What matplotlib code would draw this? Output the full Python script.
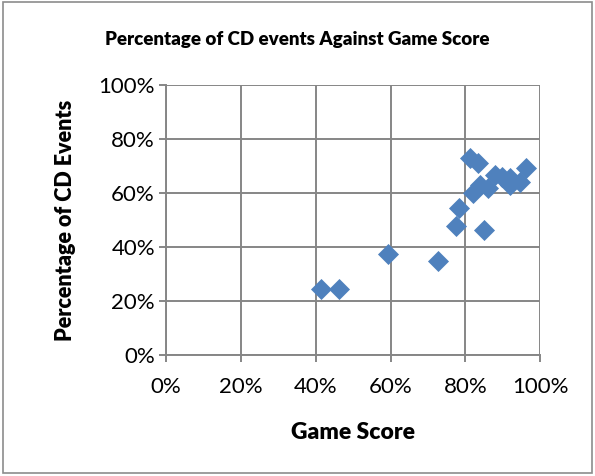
import matplotlib.pyplot as plt
import matplotlib.ticker as mtick
from matplotlib.patches import Rectangle

plt.rcParams['font.family'] = ['Lato', 'DejaVu Sans']

# Game score vs share of CD events (fractions)
game_score = [0.811, 0.833, 0.961, 0.878, 0.897, 0.918, 0.945, 0.918,
              0.838, 0.860, 0.820, 0.784, 0.774, 0.851, 0.594, 0.726,
              0.415, 0.463]
cd_pct = [0.73, 0.711, 0.693, 0.667, 0.66, 0.655, 0.64, 0.63,
          0.63, 0.62, 0.60, 0.544, 0.48, 0.463, 0.374, 0.348,
          0.244, 0.244]

GRID = "#868686"
BLUE = "#4F81BD"

fig = plt.figure(figsize=(5.95, 4.76), dpi=100)
ax = fig.add_axes([0.279, 0.254, 0.629, 0.567])

ax.scatter(game_score, cd_pct, marker="D", s=115, color=BLUE,
           linewidths=0, zorder=3, clip_on=False)

ax.set_xlim(0, 1)
ax.set_ylim(0, 1)
ax.xaxis.set_major_locator(mtick.MultipleLocator(0.2))
ax.yaxis.set_major_locator(mtick.MultipleLocator(0.2))
ax.xaxis.set_major_formatter(mtick.PercentFormatter(1.0, decimals=0))
ax.yaxis.set_major_formatter(mtick.PercentFormatter(1.0, decimals=0))
ax.grid(True, color=GRID, linewidth=1.4)
ax.set_axisbelow(True)
for sp in ax.spines.values():
    sp.set_visible(False)
for side in ("left", "bottom"):
    ax.spines[side].set_visible(True)
    ax.spines[side].set_color(GRID)
    ax.spines[side].set_linewidth(1.4)
ax.tick_params(direction="out", length=5, width=1.4, color=GRID,
               labelsize=16, pad=3)
ax.tick_params(axis="x", pad=11)

ax.set_xlabel("Game Score", fontsize=16.5, fontweight="heavy", labelpad=18)
ax.set_ylabel("Percentage of CD Events", fontsize=15.5, fontweight="heavy", labelpad=16)
fig.text(0.5, 0.916, "Percentage of CD events Against Game Score",
         ha="center", va="center", fontsize=13.5, fontweight="heavy")

# chart frame
fig.patches.append(Rectangle((0.005, 0.006), 0.99, 0.99, transform=fig.transFigure,
                             fill=False, edgecolor="#8c8c8c", linewidth=1.2))

fig.savefig("out.png", dpi=100)
